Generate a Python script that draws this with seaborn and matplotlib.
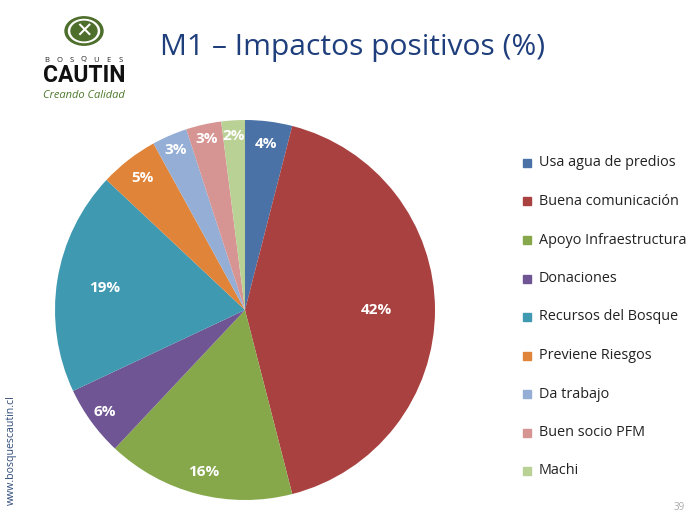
import matplotlib.pyplot as plt
import numpy as np
import seaborn as sns
from matplotlib.patches import Circle, Rectangle

# Slice data, clockwise from 12 o'clock
categories = ['Usa agua de predios', 'Buena comunicación', 'Apoyo Infraestructura',
              'Donaciones', 'Recursos del Bosque', 'Previene Riesgos',
              'Da trabajo', 'Buen socio PFM', 'Machi']
values = [4, 42, 16, 6, 19, 5, 3, 3, 2]

slice_colors = ['#4A72A6', '#A8413F', '#86A84A', '#6F5593', '#3F9AB1',
                '#E0843A', '#94AED6', '#D69493', '#BAD196']
# radial position of each percent label (fraction of radius)
label_radius = [0.88, 0.69, 0.88, 0.91, 0.75, 0.88, 0.92, 0.92, 0.92]

sns.set_theme(style='white')
plt.rcParams['font.family'] = ['Open Sans', 'DejaVu Sans']

fig = plt.figure(figsize=(6.93, 5.18), dpi=100)
fig.patch.set_facecolor('white')

W, H = 693, 518


def fx(px):
    return px / W


def fy(py):
    return 1 - py / H


# pie centred at (245, 310) px with radius 190 px
r = 190
ax = fig.add_axes([fx(245 - r), fy(310 + r), 2 * r / W, 2 * r / H])
wedges, _ = ax.pie(values, colors=sns.color_palette(slice_colors), startangle=90,
                   counterclock=False, radius=1, wedgeprops=dict(linewidth=0))
ax.set_xlim(-1, 1)
ax.set_ylim(-1, 1)
ax.set_aspect('equal')
ax.axis('off')

for w, v, lr in zip(wedges, values, label_radius):
    ang = np.deg2rad((w.theta1 + w.theta2) / 2)
    ax.text(lr * np.cos(ang), lr * np.sin(ang), f'{v}%', ha='center', va='center',
            color='white', fontsize=11, fontweight='bold')

# legend
for i, (name, col) in enumerate(zip(categories, slice_colors)):
    y = 163 + i * 38.5
    fig.patches.append(Rectangle((fx(523), fy(y + 4)), 8 / W, 8 / H,
                                 transform=fig.transFigure, color=col))
    fig.text(fx(539), fy(y), name, fontsize=10.4, color='#222222', va='center', ha='left')

# title
fig.text(fx(160), fy(47), 'M1 – Impactos positivos (%)', fontsize=21.6,
         color='#1F3E7C', va='center', ha='left')

# logo
lx, ly = 84, 31
green = '#4E6E2C'
for rad, col in [(19, green), (15.5, 'white'), (13, green)]:
    fig.patches.append(Circle((fx(lx), fy(ly)), rad / W, transform=fig.transFigure, color=col))
fig.text(fx(lx), fy(ly + 1), '✕', fontsize=15, color='white', fontweight='bold',
         ha='center', va='center', family=['DejaVu Sans'])
for k, ch in enumerate('BOSQUES'):
    fig.text(fx(47 + k * 12.2), fy(60), ch, fontsize=5.5, color='#222222',
             ha='center', va='center')
fig.text(fx(lx), fy(76), 'CAUTIN', fontsize=16.5, color='#111111',
         fontweight='bold', ha='center', va='center', family=['Roboto', 'DejaVu Sans'])
fig.text(fx(lx), fy(96), 'Creando Calidad', fontsize=8, color='#4E7A2C',
         style='italic', ha='center', va='center')

# side url and page number
fig.text(fx(11), fy(450), 'www.bosquescautin.cl', fontsize=7.6, color='#2E4A7A',
         rotation=90, ha='center', va='center')
fig.text(fx(679), fy(507), '39', fontsize=7, color='#aaaaaa', ha='center', va='center')

fig.savefig('out.png', dpi=100)
